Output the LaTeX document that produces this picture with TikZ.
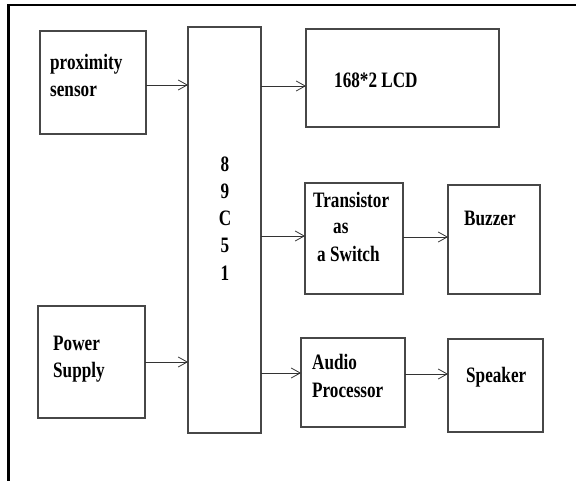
\documentclass[tikz,border=0pt]{standalone}
\usepackage{fontspec}
\setmainfont[FakeStretch=0.78]{Liberation Serif}
\usetikzlibrary{arrows.meta}
\begin{document}
\begin{tikzpicture}[x=1pt,y=-1pt,
  blockbox/.style={draw=black!72,line width=1.1pt,inner sep=0pt,outer sep=0pt,anchor=north west},
  lbl/.style={anchor=base west,inner sep=0pt,font=\fontsize{22}{27}\selectfont\bfseries,text=black},
  digit/.style={anchor=base,inner sep=0pt,font=\fontsize{22}{27}\selectfont\bfseries,text=black},
  arr/.style={draw=black!80,line width=0.9pt,-{Straight Barb[length=9pt,width=10pt,line width=0.8pt]}}]
\useasboundingbox (0,0) rectangle (576,481);
% outer frame (top and left edges only)
\draw[line width=2.6pt,black] (8.5,481) -- (8.5,5) -- (576,5);

% blocks
\node[blockbox,minimum width=106pt,minimum height=103pt] (prox) at (40,31) {};
\node[blockbox,minimum width=73pt,minimum height=406pt] (mcu) at (188,27) {};
\node[blockbox,minimum width=193pt,minimum height=98pt] (lcd) at (306,29) {};
\node[blockbox,minimum width=98pt,minimum height=111pt] (trans) at (305,183) {};
\node[blockbox,minimum width=92pt,minimum height=109pt] (buzzer) at (448,185) {};
\node[blockbox,minimum width=107pt,minimum height=112pt] (power) at (38,306) {};
\node[blockbox,minimum width=104pt,minimum height=89pt] (audio) at (301,338) {};
\node[blockbox,minimum width=95pt,minimum height=93pt] (speaker) at (448,339) {};

% block texts
\node[lbl] (proxA) at (50,70) {proximity};
\node[lbl] (proxB) at (50,97) {sensor};
\node[digit] (d1) at (225,172) {8};
\node[digit] (d2) at (225,199) {9};
\node[digit] (d3) at (225,226) {C};
\node[digit] (d4) at (225,253) {5};
\node[digit] (d5) at (225,280) {1};
\node[lbl] (lcdT) at (334,88) {168*2 LCD};
\node[lbl] (trA) at (313,208) {Transistor};
\node[lbl] (trB) at (333,234) {as};
\node[lbl] (trC) at (317,262) {a Switch};
\node[lbl] (buzT) at (464,226) {Buzzer};
\node[lbl] (powA) at (53,350) {Power};
\node[lbl] (powB) at (53,377) {Supply};
\node[lbl] (audA) at (312,369) {Audio};
\node[lbl] (audB) at (312,397) {Processor};
\node[lbl] (spkT) at (466,382) {Speaker};

% connectors
\draw[arr] (prox.east |- 0,85) -- (mcu.west |- 0,85);
\draw[arr] (mcu.east |- 0,86) -- (lcd.west |- 0,86);
\draw[arr] (mcu.east |- 0,236) -- (trans.west |- 0,236);
\draw[arr] (trans.east |- 0,237) -- (buzzer.west |- 0,237);
\draw[arr] (power.east |- 0,362) -- (mcu.west |- 0,362);
\draw[arr] (mcu.east |- 0,373) -- (audio.west |- 0,373);
\draw[arr] (audio.east |- 0,374) -- (speaker.west |- 0,374);
\end{tikzpicture}
\end{document}
